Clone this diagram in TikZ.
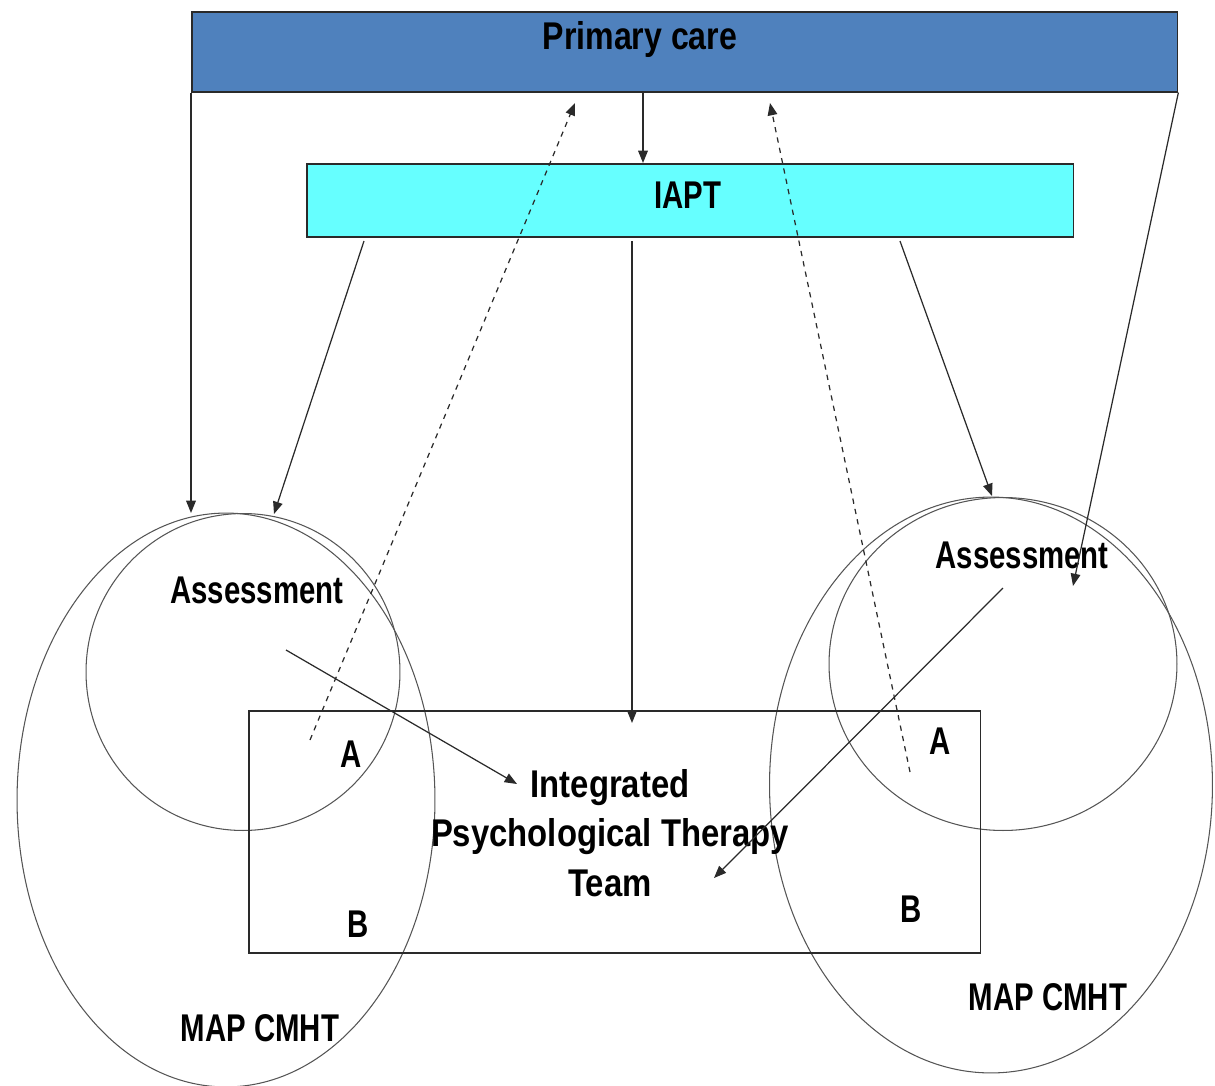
\documentclass[tikz,border=0pt]{standalone}
\usepackage{fontspec}
\setmainfont{Liberation Sans}[FakeStretch=0.76]
\newfontfamily\ittfont{Liberation Sans}[FakeStretch=0.85]
\newfontfamily\pcfont{Liberation Sans}[FakeStretch=0.83]
\usetikzlibrary{shapes.geometric,arrows.meta}
\definecolor{pcblue}{HTML}{4F81BD}
\definecolor{iaptcyan}{HTML}{66FFFF}
\definecolor{linegray}{HTML}{2A2A2A}
\definecolor{ellgray}{HTML}{555555}
\tikzset{
  boxshape/.style={draw=linegray, line width=0.9pt, rectangle, inner sep=0pt, anchor=north west},
  ell/.style={draw=ellgray, line width=0.6pt, ellipse, inner sep=0pt},
  lbl/.style={font=\bfseries\fontsize{22}{28}\selectfont, text=black, inner sep=0pt},
  conn/.style={draw=linegray, line width=0.7pt, -{Triangle[length=7pt,width=5.5pt]}},
  dconn/.style={conn, dash pattern=on 3pt off 3pt}
}
\begin{document}
\begin{tikzpicture}[x=0.02cm,y=-0.02cm]
\useasboundingbox (0,0) rectangle (1215,1086);
% ellipses
\node[ell, minimum width=8.36cm, minimum height=11.48cm] (lbig) at (226,800) {};
\node[ell, minimum width=6.28cm, minimum height=6.34cm] (lsmall) at (243,672) {};
\node[ell, minimum width=8.86cm, minimum height=11.52cm] (rbig) at (991,785) {};
\node[ell, minimum width=6.96cm, minimum height=6.66cm] (rsmall) at (1003,664) {};
% boxes
\node[boxshape, fill=pcblue, minimum width=19.72cm, minimum height=1.6cm] (pc) at (191,11) {};
\node[boxshape, fill=iaptcyan, minimum width=15.34cm, minimum height=1.46cm] (iapt) at (306,163) {};
\node[boxshape, minimum width=14.64cm, minimum height=4.84cm] (itt) at (248,710) {};
% labels
\node[lbl, font=\pcfont\bfseries\fontsize{22}{28}\selectfont] (pct) at (640,40) {Primary care};
\node[lbl] (iaptt) at (688,195) {IAPT};
\node[lbl, align=center, font=\ittfont\bfseries\fontsize{22}{28}\selectfont] (ittt) at (610,833) {Integrated\\Psychological Therapy\\Team};
\node[lbl] (lass) at (257,590) {Assessment};
\node[lbl] (rass) at (1022,555) {Assessment};
\node[lbl] (lmap) at (260,1028) {MAP CMHT};
\node[lbl] (rmap) at (1048,997) {MAP CMHT};
\node[lbl] (la) at (351,754) {A};
\node[lbl] (lb) at (358,924) {B};
\node[lbl] (ra) at (940,741) {A};
\node[lbl] (rb) at (911,909) {B};
% connector end points
\coordinate (c1e) at (191,513);
\coordinate (c2e) at (1073,586);
\coordinate (c3s) at (643,91);
\coordinate (c4s) at (364,241);
\coordinate (c4e) at (274,514);
\coordinate (c5s) at (632,241);
\coordinate (c5e) at (632,723);
\coordinate (c6s) at (900,241);
\coordinate (c6e) at (992,496);
\coordinate (d1s) at (310,740);
\coordinate (d1e) at (575,103);
\coordinate (d2s) at (910,772);
\coordinate (d2e) at (770,103);
\coordinate (a1s) at (286,650);
\coordinate (a1e) at (517,784);
\coordinate (a2s) at (1003,588);
\coordinate (a2e) at (714,878);
% connectors
\draw[conn] (pc.south west) -- (c1e);
\draw[conn] (pc.south east) -- (c2e);
\draw[conn] (c3s) -- (iapt.north -| c3s);
\draw[conn] (c4s) -- (c4e);
\draw[conn] (c5s) -- (c5e);
\draw[conn] (c6s) -- (c6e);
\draw[dconn] (d1s) -- (d1e);
\draw[dconn] (d2s) -- (d2e);
\draw[conn] (a1s) -- (a1e);
\draw[conn] (a2s) -- (a2e);
\end{tikzpicture}
\end{document}
